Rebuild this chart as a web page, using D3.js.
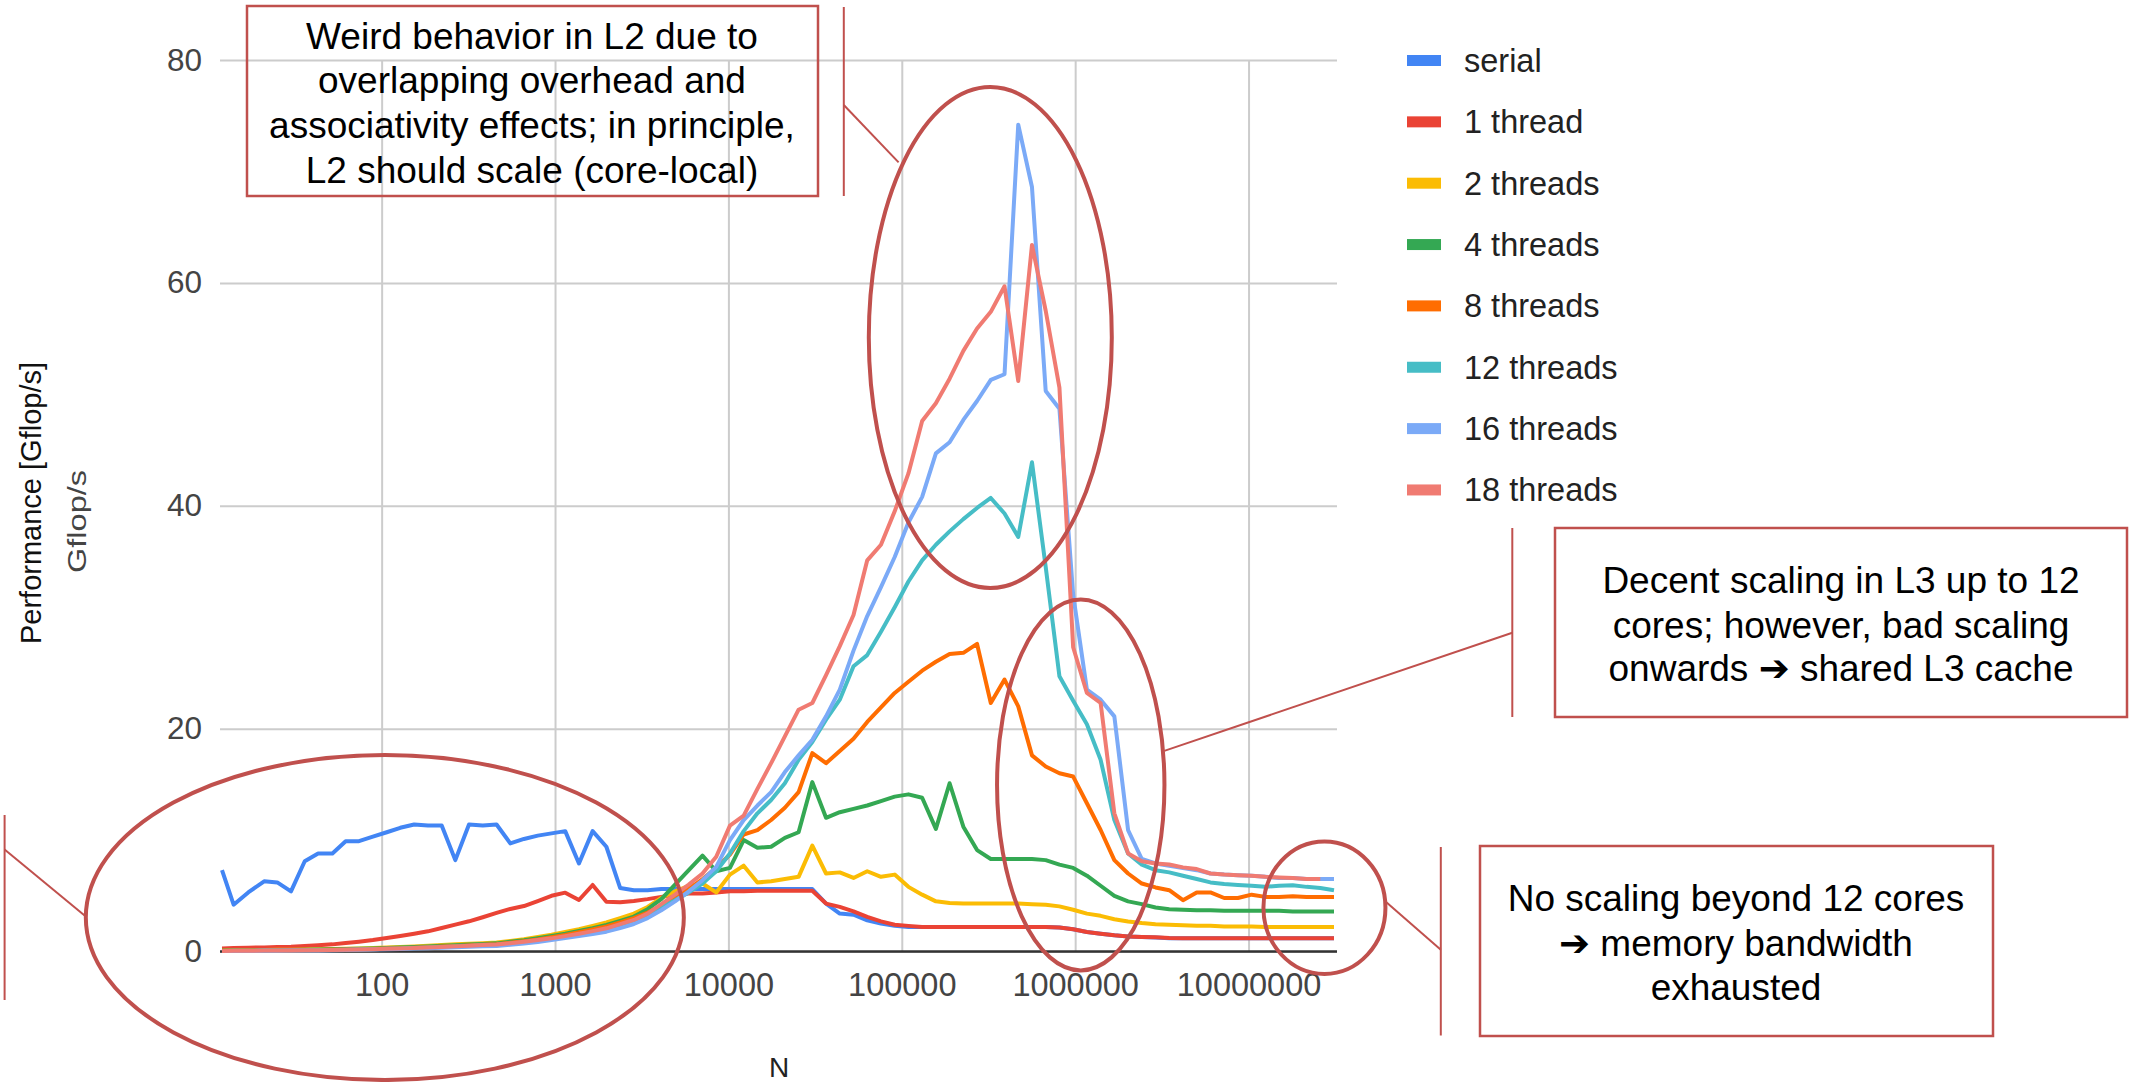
<!DOCTYPE html>
<html>
<head>
<meta charset="utf-8">
<script src="https://cdn.jsdelivr.net/npm/d3@7"></script>
<style>
  html, body { margin: 0; padding: 0; background: #fff; }
  svg { display: block; }
  text { font-family: "Liberation Sans", Arial, "DejaVu Sans", sans-serif; }
</style>
</head>
<body>
<div id="chart"></div>
<script>
// ---- Data
// problem size N, one entry per measurement
const N = [12, 14, 17, 21, 25, 30, 36, 43, 52, 62,
  74, 89, 107, 128, 154, 185, 222, 266, 319, 383,
  460, 552, 662, 795, 954, 1145, 1374, 1648, 1978, 2374,
  2849, 3418, 4102, 4922, 5907, 7088, 8506, 10207, 12249, 14698,
  17638, 21166, 25399, 30479, 36575, 43890, 52668, 63202, 75842, 91010,
  109212, 131055, 157266, 188719, 226463, 271755, 326106, 391328, 469593, 563512,
  676214, 811457, 973748, 1168498, 1402198, 1682637, 2019165, 2422998, 2907597, 3489117,
  4186941, 5024329, 6029195, 7235034, 8682041, 10418449, 12502139, 15002567, 18003080, 21603696,
  25924435, 31109322];

const serial = [7.3, 4.2, 5.3, 6.3, 6.2, 5.4, 8.1, 8.8, 8.8, 9.9,
  9.9, 10.3, 10.7, 11.1, 11.4, 11.3, 11.3, 8.2, 11.4, 11.3,
  11.4, 9.7, 10.1, 10.4, 10.6, 10.8, 7.9, 10.8, 9.4, 5.7,
  5.5, 5.5, 5.6, 5.6, 5.6, 5.6, 5.6, 5.6, 5.6, 5.6,
  5.6, 5.6, 5.6, 5.6, 4.3, 3.4, 3.3, 2.8, 2.5, 2.3,
  2.2, 2.2, 2.2, 2.2, 2.2, 2.2, 2.2, 2.2, 2.2, 2.2,
  2.2, 2.15, 2.0, 1.75, 1.6, 1.45, 1.35, 1.3, 1.25, 1.2,
  1.2, 1.2, 1.2, 1.2, 1.2, 1.2, 1.2, 1.2, 1.2, 1.2,
  1.2, 1.2];

const thread1 = [0.28, 0.31, 0.34, 0.37, 0.40, 0.43, 0.49, 0.55, 0.64, 0.76,
  0.88, 1.03, 1.21, 1.39, 1.60, 1.81, 2.11, 2.41, 2.71, 3.07,
  3.46, 3.82, 4.08, 4.53, 5.00, 5.28, 4.62, 5.97, 4.47, 4.41,
  4.53, 4.70, 4.90, 5.10, 5.20, 5.20, 5.30, 5.40, 5.40, 5.45,
  5.45, 5.45, 5.45, 5.45, 4.30, 4.00, 3.60, 3.10, 2.70, 2.40,
  2.30, 2.20, 2.20, 2.20, 2.20, 2.20, 2.20, 2.20, 2.20, 2.20,
  2.20, 2.15, 2.00, 1.75, 1.60, 1.45, 1.35, 1.30, 1.27, 1.22,
  1.20, 1.20, 1.20, 1.20, 1.20, 1.20, 1.20, 1.20, 1.20, 1.20,
  1.20, 1.20];

const thread2 = [0.10, 0.11, 0.12, 0.13, 0.15, 0.16, 0.18, 0.20, 0.22, 0.25,
  0.28, 0.32, 0.36, 0.41, 0.46, 0.52, 0.58, 0.64, 0.70, 0.75,
  0.80, 0.95, 1.10, 1.30, 1.50, 1.75, 2.00, 2.30, 2.60, 3.00,
  3.40, 4.00, 4.80, 5.40, 5.90, 6.10, 5.30, 6.90, 7.70, 6.20,
  6.30, 6.50, 6.70, 9.50, 7.00, 7.10, 6.60, 7.20, 6.70, 6.90,
  5.80, 5.10, 4.50, 4.35, 4.30, 4.30, 4.30, 4.30, 4.30, 4.25,
  4.20, 4.05, 3.75, 3.40, 3.20, 2.90, 2.70, 2.55, 2.45, 2.40,
  2.35, 2.30, 2.30, 2.25, 2.25, 2.25, 2.20, 2.20, 2.20, 2.20,
  2.20, 2.20];

const thread4 = [0.08, 0.09, 0.10, 0.11, 0.12, 0.14, 0.16, 0.18, 0.20, 0.22,
  0.25, 0.28, 0.32, 0.36, 0.41, 0.46, 0.52, 0.57, 0.62, 0.68,
  0.73, 0.87, 1.02, 1.20, 1.39, 1.60, 1.85, 2.10, 2.38, 2.75,
  3.13, 3.80, 4.70, 6.00, 7.30, 8.60, 7.20, 7.50, 10.0, 9.30,
  9.40, 10.2, 10.7, 15.2, 12.0, 12.5, 12.8, 13.1, 13.5, 13.9,
  14.1, 13.8, 11.0, 15.1, 11.2, 9.10, 8.30, 8.30, 8.30, 8.30,
  8.20, 7.80, 7.50, 6.80, 5.90, 5.00, 4.50, 4.25, 3.95, 3.80,
  3.75, 3.70, 3.70, 3.65, 3.65, 3.65, 3.65, 3.65, 3.60, 3.60,
  3.60, 3.60];

const thread8 = [0.06, 0.07, 0.08, 0.09, 0.10, 0.11, 0.12, 0.14, 0.16, 0.18,
  0.20, 0.23, 0.26, 0.30, 0.34, 0.39, 0.44, 0.49, 0.54, 0.60,
  0.66, 0.78, 0.92, 1.08, 1.27, 1.48, 1.72, 1.98, 2.25, 2.60,
  3.00, 3.50, 4.10, 4.80, 5.60, 6.50, 7.50, 8.70, 10.5, 10.9,
  11.8, 12.9, 14.3, 17.8, 16.9, 18.0, 19.1, 20.6, 21.9, 23.2,
  24.2, 25.2, 26.0, 26.7, 26.8, 27.6, 22.3, 24.4, 22.0, 17.6,
  16.6, 16.0, 15.7, 13.3, 10.9, 8.2, 7.0, 6.1, 5.75, 5.5,
  4.6, 5.3, 5.3, 4.8, 4.8, 5.1, 4.9, 4.9, 4.95, 4.9,
  4.9, 4.9];

const thread12 = [0.05, 0.06, 0.07, 0.08, 0.09, 0.10, 0.11, 0.12, 0.14, 0.16,
  0.18, 0.21, 0.24, 0.27, 0.31, 0.35, 0.40, 0.45, 0.50, 0.55,
  0.58, 0.70, 0.83, 0.97, 1.10, 1.30, 1.50, 1.75, 2.00, 2.35,
  2.70, 3.25, 3.95, 4.60, 5.30, 6.10, 7.20, 8.80, 10.8, 12.4,
  13.6, 15.1, 17.2, 18.8, 20.8, 22.6, 25.6, 26.6, 28.7, 30.9,
  33.2, 35.1, 36.5, 37.7, 38.8, 39.8, 40.7, 39.3, 37.2, 43.9,
  34.5, 24.7, 22.5, 20.4, 17.2, 11.8, 8.8, 7.8, 7.3, 7.1,
  6.8, 6.5, 6.2, 6.05, 5.97, 5.9, 5.8, 5.9, 5.95, 5.8,
  5.7, 5.5];

const thread16 = [0.04, 0.05, 0.05, 0.06, 0.07, 0.08, 0.09, 0.10, 0.11, 0.13,
  0.15, 0.17, 0.20, 0.23, 0.26, 0.30, 0.34, 0.38, 0.42, 0.46,
  0.50, 0.60, 0.72, 0.86, 1.03, 1.20, 1.38, 1.57, 1.78, 2.10,
  2.47, 3.00, 3.70, 4.50, 5.40, 6.40, 7.60, 10.0, 11.8, 13.1,
  14.3, 16.1, 17.6, 19.0, 21.1, 23.5, 27.0, 30.1, 32.7, 35.4,
  38.5, 40.8, 44.7, 45.7, 47.7, 49.4, 51.3, 51.8, 74.2, 68.6,
  50.3, 48.7, 32.0, 23.5, 22.6, 21.1, 10.9, 8.3, 7.9, 7.7,
  7.5, 7.3, 7.0, 6.9, 6.85, 6.8, 6.7, 6.6, 6.6, 6.5,
  6.5, 6.5];

// 18 threads has one measurement less at the large end
const thread18 = [0.05, 0.06, 0.07, 0.08, 0.09, 0.10, 0.11, 0.12, 0.14, 0.16,
  0.18, 0.21, 0.24, 0.27, 0.31, 0.35, 0.40, 0.46, 0.52, 0.58,
  0.63, 0.75, 0.88, 1.03, 1.18, 1.38, 1.60, 1.83, 2.08, 2.45,
  2.83, 3.40, 4.26, 5.10, 6.00, 7.00, 8.50, 11.3, 12.2, 14.6,
  16.9, 19.3, 21.7, 22.3, 24.8, 27.4, 30.2, 35.1, 36.5, 39.5,
  42.9, 47.6, 49.2, 51.4, 53.9, 55.9, 57.4, 59.7, 51.2, 63.4,
  57.5, 50.6, 27.3, 23.2, 22.3, 12.4, 8.8, 8.1, 7.9, 7.8,
  7.55, 7.4, 7.0, 6.9, 6.85, 6.8, 6.7, 6.65, 6.6, 6.5,
  6.5];

const seriesNames = ["serial", "1 thread", "2 threads", "4 threads", "8 threads", "12 threads", "16 threads", "18 threads"];
const seriesValues = [serial, thread1, thread2, thread4, thread8, thread12, thread16, thread18];
const seriesColors = ["#4285F4", "#EA4335", "#FBBC04", "#34A853", "#FF6D01", "#46BDC6", "#7BAAF7", "#F07B72"];

const xTicks = [100, 1000, 10000, 100000, 1000000, 10000000];
const yTicks = [0, 20, 40, 60, 80];

// ---- Layout
const width = 2144, height = 1082;
const plotLeft = 220, plotRight = 1337, plotTop = 60, plotBottom = 951.5;
const annoColor = "#C0504D";

const svg = d3.select("#chart")
  .append("svg")
    .attr("width", width)
    .attr("height", height);

svg.append("rect").attr("width", width).attr("height", height).attr("fill", "#fff");

// ---- Scales
const x = d3.scaleLog()
  .domain([N[0], N[N.length - 1]])
  .range([222, 1334]);
const y = d3.scaleLinear()
  .domain([0, 80])
  .range([plotBottom, plotTop]);

// ---- Y axis + horizontal grid
const gy = svg.append("g")
  .attr("transform", "translate(" + plotLeft + ",0)")
  .call(d3.axisLeft(y).tickValues(yTicks).tickSize(-(plotRight - plotLeft)).tickPadding(18).tickFormat(d3.format("d")));
gy.select(".domain").remove();
gy.selectAll(".tick line").attr("stroke", "#cccccc").attr("stroke-width", 2);
gy.selectAll(".tick text").attr("fill", "#444").style("font-size", "31.5px");

// ---- X axis + vertical grid
const gx = svg.append("g")
  .attr("transform", "translate(0," + plotBottom + ")")
  .call(d3.axisBottom(x).tickValues(xTicks).tickSize(-(plotBottom - plotTop)).tickPadding(21).tickFormat(d3.format("d")));
gx.select(".domain").remove();
gx.selectAll(".tick line").attr("stroke", "#cccccc").attr("stroke-width", 2);
gx.selectAll(".tick text").attr("fill", "#444").style("font-size", "32.5px");

// baseline
svg.append("line")
  .attr("x1", plotLeft).attr("x2", plotRight)
  .attr("y1", y(0)).attr("y2", y(0))
  .attr("stroke", "#333").attr("stroke-width", 2.5);

// ---- Axis titles
svg.append("text")
  .attr("x", 779).attr("y", 1077)
  .attr("text-anchor", "middle")
  .style("font-size", "28px").attr("fill", "#222")
  .text("N");

svg.append("text")
  .attr("transform", "translate(40.5,503) rotate(-90)")
  .attr("text-anchor", "middle")
  .style("font-size", "29px").attr("fill", "#111")
  .text("Performance [Gflop/s]");

svg.append("text")
  .attr("transform", "translate(86,470) rotate(-90)")
  .attr("text-anchor", "start")
  .attr("x", -103)
  .attr("textLength", 103).attr("lengthAdjust", "spacingAndGlyphs")
  .style("font-size", "25px").attr("fill", "#444")
  .text("Gflop/s");

// ---- Lines
const line = d3.line()
  .x(function(d, i) { return x(N[i]); })
  .y(function(d) { return y(d); });

svg.append("g")
  .selectAll("path")
  .data(seriesValues)
  .enter()
    .append("path")
    .attr("d", line)
    .attr("fill", "none")
    .attr("stroke", function(d, i) { return seriesColors[i]; })
    .attr("stroke-width", 4)
    .attr("stroke-linejoin", "round");

// ---- Legend
const legend = svg.append("g").selectAll("g")
  .data(seriesNames)
  .enter()
    .append("g")
    .attr("transform", function(d, i) { return "translate(1407," + (60.5 + i * 61.35) + ")"; });
legend.append("rect")
  .attr("x", 0).attr("y", -5.5)
  .attr("width", 34).attr("height", 11)
  .attr("fill", function(d, i) { return seriesColors[i]; });
legend.append("text")
  .attr("x", 57).attr("dy", "0.35em")
  .style("font-size", "32.5px").attr("fill", "#222")
  .text(function(d) { return d; });

// ---- Annotations: ellipses placed in data space, radii in px
const ellipses = [
  {n: 324000, v: 55.1, rx: 121.5, ry: 250.5},
  {n: 1077000, v: 14.95, rx: 83.7, ry: 185.5},
  {n: 27400000, v: 3.93, rx: 61, ry: 66.2},
  {n: 104.3, v: 3.05, rx: 299, ry: 162.5}
];
svg.append("g").selectAll("ellipse")
  .data(ellipses)
  .enter()
    .append("ellipse")
    .attr("cx", function(d) { return x(d.n); })
    .attr("cy", function(d) { return y(d.v); })
    .attr("rx", function(d) { return d.rx; })
    .attr("ry", function(d) { return d.ry; })
    .attr("fill", "none")
    .attr("stroke", annoColor)
    .attr("stroke-width", 4);

// callout boxes
const boxes = [
  {x: 247, y: 6, w: 571, h: 190, cx: 532, ly: [35.7, 80.3, 125, 169.6],
   lines: ["Weird behavior in L2 due to", "overlapping overhead and", "associativity effects; in principle,", "L2 should scale (core-local)"]},
  {x: 1555, y: 528, w: 572, h: 189, cx: 1841, ly: [580.3, 625, 668],
   lines: ["Decent scaling in L3 up to 12", "cores; however, bad scaling", "onwards \u2794 shared L3 cache"]},
  {x: 1480, y: 846, w: 513, h: 190, cx: 1736, ly: [898, 942.7, 987.3],
   lines: ["No scaling beyond 12 cores", "\u2794 memory bandwidth", "exhausted"]}
];
const gb = svg.append("g").selectAll("g").data(boxes).enter().append("g");
gb.append("rect")
  .attr("x", function(d) { return d.x; })
  .attr("y", function(d) { return d.y; })
  .attr("width", function(d) { return d.w; })
  .attr("height", function(d) { return d.h; })
  .attr("fill", "none")
  .attr("stroke", annoColor)
  .attr("stroke-width", 2.5);
gb.each(function(b) {
  d3.select(this).selectAll("text")
    .data(b.lines)
    .enter()
      .append("text")
      .attr("x", b.cx)
      .attr("y", function(d, i) { return b.ly[i]; })
      .attr("dy", "0.35em")
      .attr("text-anchor", "middle")
      .style("font-size", "37px")
      .attr("fill", "#000")
      .text(function(d) { return d; });
});

// callout leader lines (vertical bar + pointer to ellipse)
const leaders = [
  [[843.8, 7], [843.8, 196]], [[843.8, 105], [898.6, 162.4]],
  [[1512.3, 528], [1512.3, 717]], [[1512.3, 632.8], [1164.3, 750.9]],
  [[1440.8, 847], [1440.8, 1035.5]], [[1440.8, 949.8], [1385.2, 901.3]],
  [[4.6, 815], [4.6, 1000]], [[4.6, 849.4], [86.1, 916.8]]
];
svg.append("g").selectAll("line")
  .data(leaders)
  .enter()
    .append("line")
    .attr("x1", function(d) { return d[0][0]; })
    .attr("y1", function(d) { return d[0][1]; })
    .attr("x2", function(d) { return d[1][0]; })
    .attr("y2", function(d) { return d[1][1]; })
    .attr("stroke", annoColor)
    .attr("stroke-width", 2);
</script>
</body>
</html>
